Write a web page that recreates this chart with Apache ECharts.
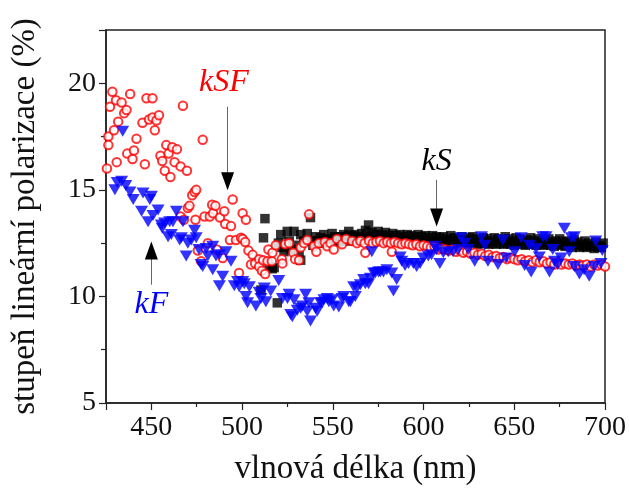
<!DOCTYPE html>
<html>
<head>
<meta charset="utf-8">
<script src="https://cdn.jsdelivr.net/npm/echarts@6/dist/echarts.min.js"></script>
<style>html,body{margin:0;padding:0;background:#fff}#c{width:629px;height:491px}</style>
</head>
<body>
<div id="c"></div>
<script>
// kSF (red open circles): [wavelength nm, polarization %]
const kSF = [
[425.5,16.0],[426.3,17.5],[426.3,17.1],[427.2,18.9],[428.5,19.6],[429.4,17.8],[430.5,19.2],[430.9,16.3],
[431.7,18.2],[433.6,19.1],[435,18.6],[436.3,18.75],[436.7,16.7],[438.3,19.5],[439.6,16.45],[440.4,16.85],
[441.8,17.4],[445.1,18.15],[446.4,16.2],[447.3,19.3],[448.7,18.3],[450.6,19.3],[450.6,18.4],[451.9,17.8],
[452.8,18.25],[454.2,18.5],[455,16.6],[456,16.35],[457.4,15.9],[458.2,17.1],[459.5,16.7],[460.5,15.6],
[461.5,17.0],[462.8,16.3],[464.1,16.9],[466.1,16.1],[466.1,13.75],[467.4,18.95],[467.9,13.6],[469.6,15.9],
[470.1,14.15],[471,14.25],[472.5,14.75],[473.8,14.9],[474.3,13.6],[474.7,15.0],[475.6,12.15],[477.4,11.65],
[478.3,17.35],[479.3,13.75],[481.1,12.5],[482.2,13.75],[483.5,14.3],[484,13.9],[485.3,14.25],[486,12.2],
[487.8,13.7],[489.3,11.8],[490.2,14.0],[490.7,13.4],[493.3,12.65],[493.9,13.3],[494.8,14.55],[496.6,12.65],
[498.3,11.1],[499.4,12.75],[500.3,13.9],[500.3,12.7],[501.7,12.55],[502.1,13.6],[503.5,12.15],[504.9,11.5],
[505.8,11.95],[507.2,11.55],[509.4,11.75],[509.4,11.4],[510.9,11.2],[511.6,11.7],[512.7,11.05],[514,11.65],
[514.5,12.2],[516.4,11.65],[516.7,12.05],[518.6,12.4],[521.9,11.75],[522.2,11.55],[523.7,12.45],[525.9,12.5],
[528.2,12.05],[529.2,11.75],[531.4,11.7],[532.3,12.3],[534.1,12.5],[535.9,12.65],[536.9,13.85],[539.6,12.35],
[540.9,12.1],[542.3,12.5],[545.6,12.55],[546.9,12.35],[548.7,12.5],[550.5,12.2],[552.3,12.7],[555.1,12.45],
[557.3,12.7],[560.6,12.6],[563.3,12.5],[565.2,12.6],[567.5,12.5],[567.9,12.05],[570,12.6],[572,12.5],
[574,12.55],[576,12.6],[578,12.5],[580,12.55],[582,12.5],[582.5,12.1],[584,12.55],[586,12.5],
[588,12.45],[590,12.5],[592,12.45],[594,12.4],[596,12.45],[598,12.35],[600,12.4],[602,12.35],
[604,12.3],[606,12.35],[608,12.2],[610,12.25],[612,12.2],[614,12.15],[616,12.2],[618,12.1],
[620,12.15],[622,12.05],[624,12.1],[626,12.0],[628,12.05],[630,11.95],[632,12.0],[634,11.9],
[636,11.95],[638,11.85],[640,11.9],[642,11.8],[644,11.85],[646,11.75],[648,11.8],[650,11.75],
[652,11.7],[654,11.75],[656,11.65],[658,11.7],[660,11.6],[662,11.7],[664,11.6],[666,11.65],
[668,11.55],[670,11.6],[672,11.5],[674,11.6],[676,11.5],[678,11.55],[680,11.5],[682,11.55],
[684,11.45],[686,11.5],[688,11.45],[690,11.5],[692,11.4],[694,11.5],[696,11.45],[698,11.5],[700,11.4]
];
// kS (black filled squares)
const kS = [
[510.4,10.3],[511.8,12.75],[512.6,13.65],[514.9,11.4],[516.6,11.3],[517.7,11.35],[519.4,9.7],[520,12.5],
[521.3,12.9],[522,12.3],[523.1,12.1],[524.9,13.05],[526,12.6],[527,12.2],[528.6,13.05],[530,12.4],[531.4,11.95],
[532.3,12.9],[532.3,11.7],[534,12.6],[535.9,12.95],[537.7,13.7],[538,12.6],[539,12.4],[540.5,12.8],[541,12.55],
[542,12.6],[543.2,12.75],[544,12.5],[545,12.9],[546,12.6],[547,12.7],[548,12.55],[549.6,12.95],[550,12.6],
[551,12.8],[552.5,12.7],[553,12.55],[554.2,12.8],[555,12.6],[556,12.9],[557.5,12.8],[558,12.6],
[558.8,13.05],[559.5,12.7],[560.5,12.85],[561,12.65],[562,12.9],[563,12.7],[564,12.8],[565,12.65],
[566,12.95],[567,12.7],[568,13.1],[569,12.75],[569.7,13.35],[570.5,12.8],[571.5,13.0],[572,12.75],
[573,12.9],[574,12.7],[575,13.05],[576,12.75],[577,12.9],[578,12.7],[579,13.0],[580,12.75],
[581,12.85],[582,12.7],[583,12.95],[584,12.7],[585,12.85],[586,12.65],[587,12.9],[588,12.7],
[589,12.8],[590,12.65],[591,12.9],[592,12.7],[593,12.85],[594,12.65],[595,12.8],[596,12.6],
[597,12.9],[598,12.65],[599,12.8],[600,12.6],[601,12.85],[602,12.6],[603,12.75],[604,12.55],
[605,12.85],[606,12.6],[607,12.8],[608,12.55],[609,12.75],[610,12.6],[611,12.8],[612,12.55],
[613,12.7],[614,12.5],[615,12.85],[616,12.6],[617,12.75],[618,12.5],[619,12.7],[620,12.55],
[621,12.8],[622,12.5],[623,12.65],[624,12.45],[625,12.75],[626,12.55],[627,12.8],[628,12.5],
[629,12.7],[630,12.45],[631,12.65],[632,12.5],[633,12.75],[634,12.5],[635,12.7],[636,12.45],
[637,12.6],[638,12.5],[639,12.75],[640,12.45],[641,12.7],[642,12.5],[643,12.65],[644,12.45],
[645,12.8],[646,12.5],[647,12.7],[648,12.45],[649,12.6],[650,12.4],[651,12.75],[652,12.5],
[653,12.7],[654,12.45],[655,12.6],[656,12.4],[657,12.65],[658,12.45],[659,12.75],[660,12.5],
[661,12.6],[662,12.4],[663,12.7],[664,12.45],[665,12.55],[666,12.4],[667,12.65],[668,12.45],
[669,12.7],[670,12.4],[671,12.55],[672,12.35],[673,12.6],[674,12.45],[675,12.7],[676,12.4],
[677,12.55],[678,12.35],[679,12.6],[680,12.4],[681,12.5],[682,12.3],[683,12.65],[684,12.4],
[685,12.55],[686,12.3],[687,12.45],[688,12.35],[689,12.6],[690,12.3],[691,12.5],[692,12.35],
[693,12.4],[694,12.25],[695,12.55],[696,12.3],[697,12.4],[698,12.3],[699,12.5]
];
// kF (blue filled down-triangles)
const kF = [
[429.9,15.0],[431.2,15.35],[433.6,15.4],[434.2,17.75],[435.9,15.2],[438.2,14.9],[440,14.55],[444.6,14.0],
[445.4,14.85],[448.2,13.5],[449.1,14.55],[450,14.7],[450.9,13.8],[453.7,14.05],[455.5,13.35],[456,13.2],
[457.3,13.45],[459.2,12.8],[460.1,13.5],[461,12.9],[461.9,13.5],[463.8,14.0],[465.6,12.65],[466.5,12.75],
[467.4,13.5],[469.2,11.9],[470.1,12.5],[472,12.65],[473.8,13.1],[474.7,12.75],[476.2,12.2],[477.4,11.5],
[478.3,11.4],[480.2,12.25],[481.1,11.9],[483.8,11.25],[483.8,12.35],[485.6,11.9],[487.5,11.95],[487.5,10.5],
[489.3,10.95],[491.1,12.1],[493.9,11.65],[495.7,10.5],[497.5,10.7],[498.4,10.45],[500.3,10.7],[501.2,10.6],
[502.1,10.0],[503,9.7],[504,10.45],[507.6,9.55],[509.4,10.2],[510.4,9.9],[512.2,10.4],[513.1,9.75],
[515.8,10.25],[520.2,10.75],[522.2,9.9],[525,9.9],[525.9,10.1],[526.8,9.15],[527.7,9.05],[528.6,9.85],
[530.4,9.35],[532.3,9.45],[533.2,9.55],[535,10.1],[535.9,9.3],[536.8,9.7],[537.7,8.85],[540.5,9.45],
[541.4,9.3],[543.2,9.7],[544.1,9.7],[545.1,9.85],[546.9,9.9],[547.8,9.75],[549.6,9.85],[550.5,9.55],
[553.3,9.5],[555.1,9.9],[556,10.0],[558.8,9.75],[559.7,9.75],[561.5,10.45],[562.4,10.0],[563.3,10.4],
[565.2,10.55],[567,10.8],[567.9,10.6],[569.7,10.6],[570.7,10.85],[571.5,12.1],[572.5,11.1],[573.4,11.1],
[575.2,11.15],[576.2,11.15],[577.9,11.15],[579.8,11.25],[582.5,11.1],[583.4,10.25],[585.2,10.8],[587.1,11.85],
[588,11.65],[589.8,11.45],[591.7,11.55],[594.4,11.55],[596.2,11.4],[598.1,11.55],[599.9,11.8],[602.6,11.9],
[604.4,11.95],[606.3,12.35],[607.2,12.2],[609,11.55],[610.9,12.05],[613.6,12.1],[616.3,12.1],[619.1,12.2],
[620.7,12.75],[622.7,12.5],[624.6,12.2],[628.2,11.65],[631.9,12.8],[633.7,12.4],[635.5,11.65],[641,11.5],
[643.7,12.65],[645.5,11.8],[650.2,12.1],[653.8,12.75],[655.7,11.45],[658.4,12.4],[659.3,11.15],[662,12.25],
[663.8,11.85],[665.7,12.8],[667.5,12.8],[669.4,11.15],[671.2,12.2],[672.2,11.65],[674,11.5],[675.8,11.8],
[677.6,13.2],[680.3,12.1],[681.5,12.75],[683.1,12.8],[683.1,11.4],[685.9,11.05],[688.5,11.25],[691.3,10.95],
[694.1,11.4],[694.9,12.6],[697.8,11.55],[698.5,12.15]
];
// annotation labels: [text, x, y, color]
const labels = [["kSF",490,20.04,"#ff0000"],["kS",607.2,16.34,"#000000"],["kF",450,9.63,"#0000ff"]];
// arrows: [x, lineFromY, lineToY, headY, headRotate]
const arrows = [[492,18.9,15.4,15.4,180],[607.2,15.47,13.7,13.7,180],[450,10.55,12.15,12.15,0]];

const FONT = '"Liberation Serif","Times New Roman",serif';
const chart = echarts.init(document.getElementById('c'), null, {renderer:'canvas'});
chart.setOption({
  animation:false,
  backgroundColor:'#fff',
  grid:{left:106,right:23,top:30,bottom:88,show:true,borderColor:'#222',borderWidth:1.5,backgroundColor:'transparent'},
  xAxis:{
    type:'value',min:425,max:700,splitNumber:5,
    name:'vlnová délka (nm)',nameLocation:'middle',nameGap:50,
    nameTextStyle:{fontFamily:FONT,fontSize:33,color:'#111'},
    axisLine:{show:true,onZero:false,lineStyle:{color:'#222',width:1.5}},
    axisTick:{show:true,inside:false,length:7,lineStyle:{color:'#222',width:1.2}},
    minorTick:{show:true,splitNumber:2,length:4,lineStyle:{color:'#222',width:1.2}},
    axisLabel:{fontFamily:FONT,fontSize:28,color:'#111',margin:11,showMinLabel:false},
    splitLine:{show:false}
  },
  yAxis:{
    type:'value',min:5,max:22.5,interval:5,
    name:'stupeň lineární polarizace (%)',nameLocation:'middle',nameGap:64,
    nameTextStyle:{fontFamily:FONT,fontSize:33,color:'#111'},
    axisLine:{show:true,onZero:false,lineStyle:{color:'#222',width:1.5}},
    axisTick:{show:true,inside:false,length:7,lineStyle:{color:'#222',width:1.2}},
    minorTick:{show:true,splitNumber:2,length:5,lineStyle:{color:'#222',width:1.2}},
    axisLabel:{fontFamily:FONT,fontSize:28,color:'#111',margin:10,showMaxLabel:false},
    splitLine:{show:false}
  },
  series:[
    {type:'scatter',name:'kS',data:kS,symbol:'rect',symbolSize:9.5,itemStyle:{color:'#000'},z:2},
    {type:'scatter',name:'kSF',data:kSF,symbol:'circle',symbolSize:8.5,itemStyle:{color:'#fff',borderColor:'#ff0000',borderWidth:2},z:3},
    {type:'scatter',name:'kF',data:kF,symbol:'triangle',symbolRotate:180,symbolSize:[13,11],itemStyle:{color:'#0000ff'},z:4},
    {type:'scatter',name:'ann',data:[],z:5,silent:true,
      markLine:{silent:true,symbol:['none','none'],animation:false,label:{show:false},
        lineStyle:{color:'#666',width:1,type:'solid'},
        data:arrows.map(a=>[{coord:[a[0],a[1]]},{coord:[a[0],a[2]]}])},
      markPoint:{silent:true,animation:false,
        data:arrows.map(a=>({coord:[a[0],a[3]],symbol:'triangle',symbolRotate:a[4],symbolSize:[13,18],itemStyle:{color:'#000'},label:{show:false}}))
          .concat(labels.map(l=>({coord:[l[1],l[2]],symbol:'circle',symbolSize:1,itemStyle:{color:'rgba(0,0,0,0)'},
            label:{show:true,position:'inside',formatter:l[0],color:l[3],fontFamily:FONT,fontStyle:'italic',fontSize:32}})))
      }
    }
  ]
});
</script>
</body>
</html>
